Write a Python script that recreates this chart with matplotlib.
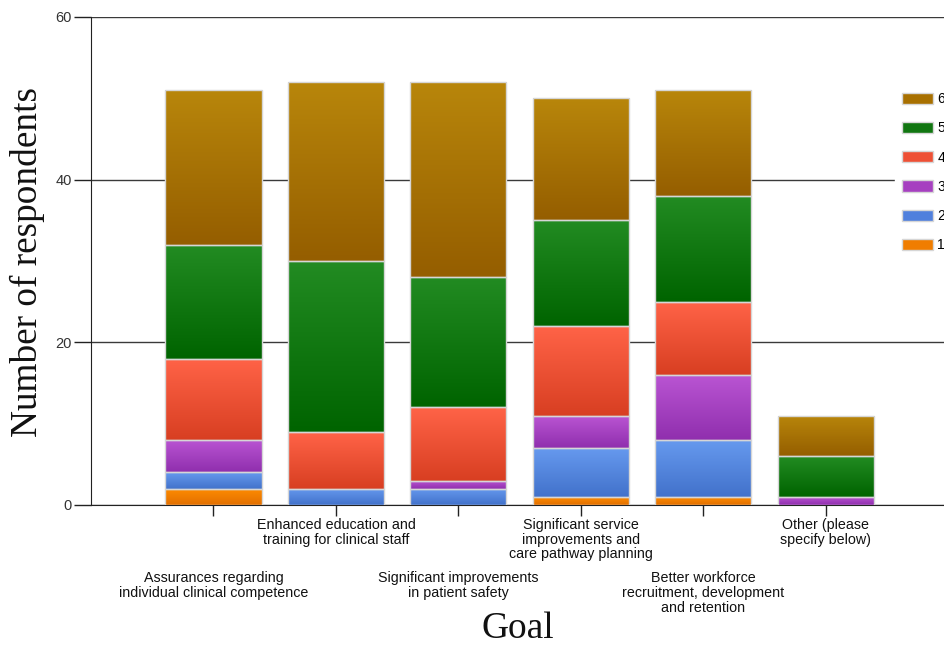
import numpy as np
import matplotlib

matplotlib.use("Agg")

from matplotlib import pyplot as plt
from matplotlib.colors import LinearSegmentedColormap
from matplotlib.patches import Patch
from matplotlib.transforms import blended_transform_factory


goals = [
    "Assurances regarding\nindividual clinical competence",
    "Enhanced education and\ntraining for clinical staff",
    "Significant improvements\nin patient safety",
    "Significant service\nimprovements and\ncare pathway planning",
    "Better workforce\nrecruitment, development\nand retention",
    "Other (please\nspecify below)",
]

# Responses per rating, stacked 1 (bottom) to 6 (top).
rating_1 = [2, 0, 0, 1, 1, 0]
rating_2 = [2, 2, 2, 6, 7, 0]
rating_3 = [4, 0, 1, 4, 8, 1]
rating_4 = [10, 7, 9, 11, 9, 0]
rating_5 = [14, 21, 16, 13, 13, 5]
rating_6 = [19, 22, 24, 15, 13, 5]

series = [rating_1, rating_2, rating_3, rating_4, rating_5, rating_6]
series_names = ["1", "2", "3", "4", "5", "6"]

# (top, bottom, legend swatch) for each rating.
shades = [
    ("#ff8c00", "#e27000", "#f07d00"),
    ("#6699ee", "#4272cb", "#5080dd"),
    ("#ba55d3", "#902fae", "#a640c0"),
    ("#ff6347", "#d83f22", "#ee5035"),
    ("#228b22", "#006400", "#117611"),
    ("#b8860b", "#955e00", "#a87000"),
]

W, H = 944, 646
fig = plt.figure(figsize=(W / 100, H / 100), dpi=100, facecolor="white")
ax = fig.add_axes([91 / W, (H - 505) / H, (W - 91) / W, 488 / H])

x = np.arange(len(goals))
bar_w = 0.785
bottom = np.zeros(len(goals))

for values, (top_c, bot_c, _) in zip(series, shades):
    cmap = LinearSegmentedColormap.from_list("g", [bot_c, top_c])
    grad = np.linspace(0, 1, 64).reshape(-1, 1)
    bars = ax.bar(x, values, bar_w, bottom=bottom, facecolor="none",
                  edgecolor="#d6d6d6", linewidth=1.0, zorder=4)
    for rect in bars:
        if rect.get_height() == 0:
            rect.set_visible(False)
            continue
        x0, y0 = rect.get_x(), rect.get_y()
        im = ax.imshow(grad, cmap=cmap, origin="lower", aspect="auto",
                       extent=(x0, x0 + rect.get_width(), y0, y0 + rect.get_height()),
                       interpolation="bilinear", zorder=3)
        im.set_clip_path(rect)
    bottom += np.array(values)

ax.set_xlim(-1, 5.965)
ax.set_ylim(0, 60)
ax.set_yticks([0, 20, 40, 60])
ax.yaxis.grid(True, color="#3a3a3a", linewidth=1.0, zorder=1)
ax.set_axisbelow(True)

for side in ("top", "right"):
    ax.spines[side].set_visible(False)
ax.spines["left"].set_color("#222222")
ax.spines["bottom"].set_color("#222222")
ax.spines["left"].set_zorder(5)

ax.tick_params(axis="y", length=12, width=1, color="#222222", pad=2,
               labelsize=10.5, labelcolor="#333333")
for lab in ax.get_yticklabels():
    lab.set_family(["Liberation Sans", "DejaVu Sans"])

ax.set_xticks(x)
ax.set_xticklabels([])
ax.tick_params(axis="x", length=8, width=1, color="#222222")

# Category names alternate between two rows below the axis.
trans = blended_transform_factory(ax.transData, ax.transAxes)
for i, name in enumerate(goals):
    y_pos = -0.026 if i % 2 else -0.135
    ax.text(i, y_pos, name, transform=trans, ha="center", va="top",
            fontsize=10.3, color="#111111", linespacing=1.08,
            family=["Liberation Sans Narrow", "Liberation Sans", "DejaVu Sans"])

fig.text(27 / W, 1 - 262 / H, "Number of respondents", rotation=90,
         ha="center", va="center", fontsize=26.8, color="#111111",
         family=["Liberation Serif", "DejaVu Serif"])
fig.text(518 / W, 1 - 629 / H, "Goal", ha="center", va="center",
         fontsize=27, color="#111111",
         family=["Liberation Serif", "DejaVu Serif"])

handles = [Patch(facecolor=s[2], edgecolor="#d6d6d6", linewidth=1.0) for s in shades]
leg = ax.legend(handles[::-1], series_names[::-1], loc="upper left",
                bbox_to_anchor=(895 / W, 1 - 85 / H), bbox_transform=fig.transFigure,
                frameon=True, fancybox=False, framealpha=1.0, edgecolor="white",
                facecolor="white", borderaxespad=0, borderpad=0.5,
                handlelength=2.2, handleheight=0.85, handletextpad=0.35,
                labelspacing=1.1, prop={"family": "Liberation Sans", "size": 10})
leg.set_zorder(6)

fig.savefig("out.png", dpi=100, facecolor="white")
